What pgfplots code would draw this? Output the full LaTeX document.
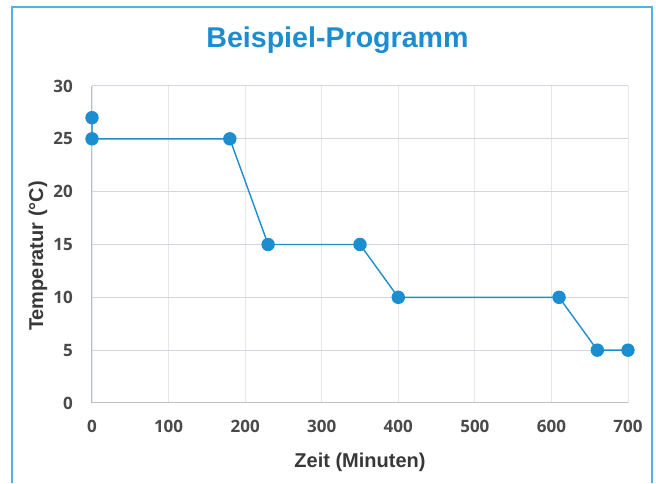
\documentclass[border=0pt]{standalone}
\usepackage{fontspec}
\setmainfont{Liberation Sans}
\newfontfamily\tickfont{Open Sans}
\usepackage{pgfplots}
\pgfplotsset{compat=1.18}
\definecolor{mainblue}{HTML}{1C8DCF}
\definecolor{framecol}{HTML}{52B2E2}
\definecolor{vgrid}{HTML}{E4E7EC}
\definecolor{hgrid}{HTML}{D3D8E0}
\definecolor{axiscol}{HTML}{BCC1C7}
\definecolor{ticktext}{HTML}{4A4A4A}
\definecolor{labeltext}{HTML}{383838}
\begin{document}
\begin{tikzpicture}
\begin{axis}[
  scale only axis,
  width=536pt, height=317pt,
  xmin=0, xmax=700, ymin=0, ymax=30,
  xtick={0,100,...,700}, ytick={0,5,...,30},
  clip=false,
  axis lines*=left,
  axis line style={-, draw=axiscol, line width=1pt},
  major tick length=0pt,
  xmajorgrids, ymajorgrids,
  x grid style={draw=vgrid, line width=0.8pt},
  y grid style={draw=hgrid, line width=1pt},
  /pgf/number format/assume math mode=true,
  ticklabel style={font=\tickfont\bfseries\fontsize{17}{17}\selectfont, text=ticktext, inner sep=0pt},
  xticklabel style={anchor=north, yshift=-17pt},
  yticklabel style={anchor=east, xshift=-19pt},
  title={Beispiel-Programm},
  title style={at={(axis description cs:0.458,1.104)}, anchor=base, inner sep=0pt,
    font=\bfseries\fontsize{28.6}{30}\selectfont, text=mainblue},
  xlabel={Zeit (Minuten)},
  xlabel style={at={(axis description cs:0.5,-0.2019)}, anchor=base, inner sep=0pt,
    font=\bfseries\fontsize{20}{22}\selectfont, text=labeltext},
  ylabel={Temperatur (°C)},
  ylabel style={at={(axis description cs:-0.0914,0.4637)}, anchor=base, rotate=0, inner sep=0pt,
    font=\bfseries\fontsize{20}{22}\selectfont, text=labeltext},
]
\addplot[color=mainblue, line width=1.4pt, mark=*, mark size=6pt, mark options={fill=mainblue, draw=mainblue}]
  coordinates {(0,27) (0,25) (180,25) (230,15) (350,15) (400,10) (610,10) (660,5) (700,5)};
\end{axis}
\path (-92pt,-78pt) rectangle (564pt,403pt);
\draw[framecol, line width=1.6pt] (-80pt,-80pt) -- (-80pt,396pt) -- (560pt,396pt) -- (560pt,-80pt);
\end{tikzpicture}
\end{document}
